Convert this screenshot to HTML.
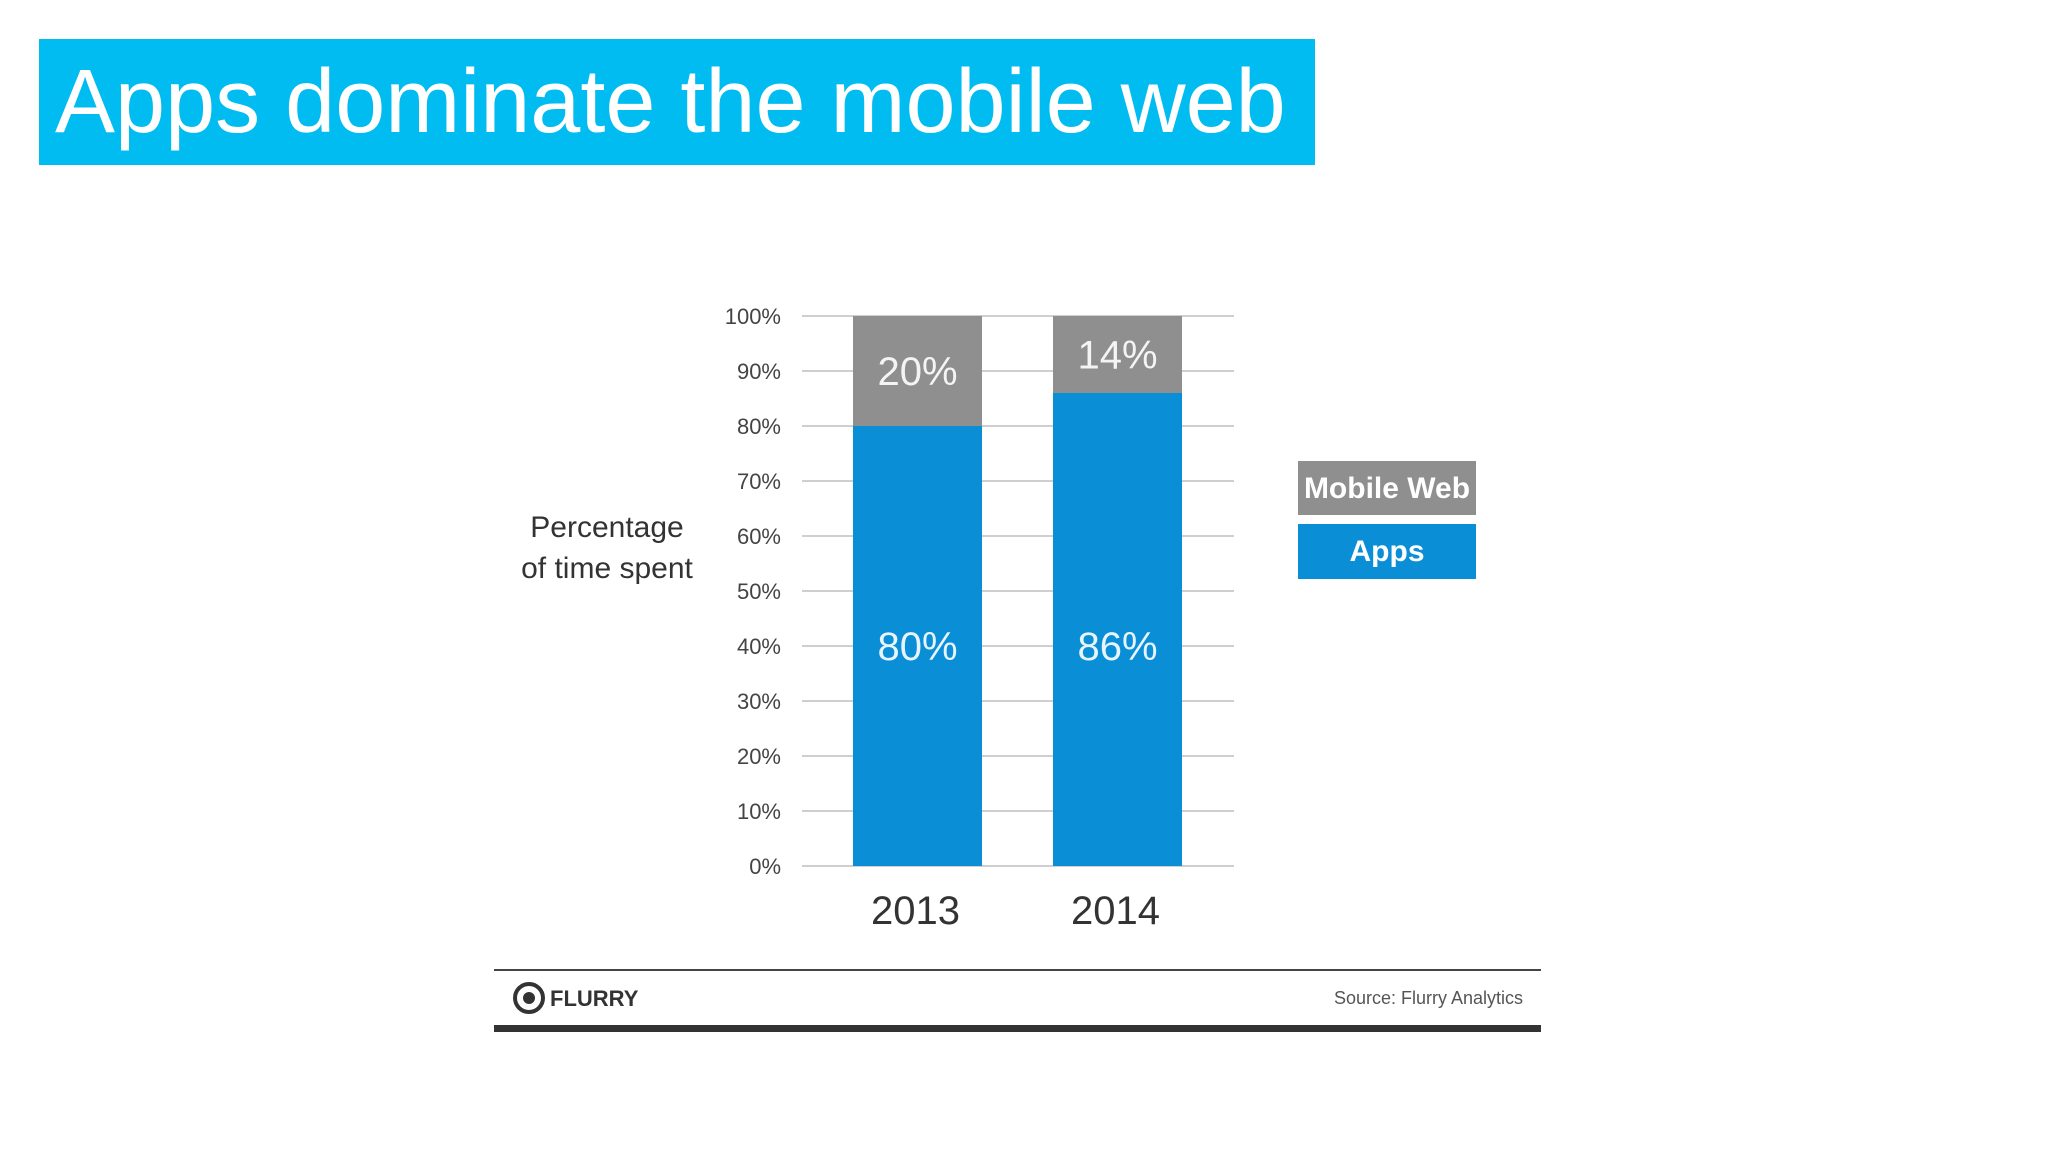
<!DOCTYPE html>
<html><head><meta charset="utf-8"><style>
html,body{margin:0;padding:0;background:#fff;}
body{width:2048px;height:1152px;position:relative;overflow:hidden;font-family:"Liberation Sans",sans-serif;}
#title{position:absolute;left:39px;top:39px;width:1276px;height:126px;background:#00bcf0;color:#fff;font-size:90px;line-height:126px;padding-left:16px;box-sizing:border-box;font-weight:300;letter-spacing:0px;}
svg{position:absolute;left:0;top:0;}
.c{font-family:"Liberation Sans Narrow","Liberation Sans",sans-serif;}
</style></head><body>
<div id="title">Apps dominate the mobile web</div>
<svg id="chart" width="2048" height="1152"></svg>
<script>
const categories=["2013","2014"];
const appsValues=[80,86];
const webValues=[20,14];
const ticks=[0,10,20,30,40,50,60,70,80,90,100];
const NS="http://www.w3.org/2000/svg";
const svg=document.getElementById('chart');
const y0=866,y100=316,xL=802,xR=1234;
const y=v=>y0-(y0-y100)*v/100;
const barX=[853,1053],barW=129;
function mk(t,a,txt){const e=document.createElementNS(NS,t);for(const k in a)e.setAttribute(k,a[k]);if(txt!==undefined)e.textContent=txt;svg.appendChild(e);return e;}
ticks.forEach(t=>{
 const l=mk('line',{x1:xL,x2:xR,y1:y(t),y2:y(t),stroke:'#cfcfcf','stroke-width':2});
 
 
 const tx=mk('text',{x:781,y:y(t)+8,'text-anchor':'end','font-size':22,fill:'#444',class:'c'},t+'%');
 
 
});
categories.forEach((c,i)=>{
 const a=mk('rect',{x:barX[i],y:y(appsValues[i]),width:barW,height:y0-y(appsValues[i]),fill:'#0a8ed6'});
 
 
 const w=mk('rect',{x:barX[i],y:y(appsValues[i]+webValues[i]),width:barW,height:y(appsValues[i])-y(appsValues[i]+webValues[i]),fill:'#8f8f8f'});
 
 
 const cx=barX[i]+barW/2;
 const t1=mk('text',{x:cx,y:y(40)+14,'text-anchor':'middle','font-size':40,fill:'#e8f4ff',class:'c'},appsValues[i]+'%');
 
 
 const t2=mk('text',{x:cx,y:y(appsValues[i]+webValues[i]/2)+14,'text-anchor':'middle','font-size':40,fill:'#f4f4f4',class:'c'},webValues[i]+'%');
 
 
 const yl=mk('text',{x:cx-2,y:924,'text-anchor':'middle','font-size':40,fill:'#333',class:'c'},c);
 
 
});
</script>
<svg width="2048" height="1152">
 <g class="c" font-size="30" fill="#333" text-anchor="middle">
  <text x="607" y="537">Percentage</text><text x="607" y="578">of time spent</text>
 </g>
 <rect x="1298" y="461" width="178" height="54" fill="#8f8f8f"/>
 <text x="1387" y="498" class="c" font-size="30" fill="#fff" text-anchor="middle" font-weight="bold">Mobile Web</text>
 <rect x="1298" y="524" width="178" height="55" fill="#0a8ed6"/>
 <text x="1387" y="561" class="c" font-size="30" fill="#fff" text-anchor="middle" font-weight="bold">Apps</text>
 <line x1="494" x2="1541" y1="970" y2="970" stroke="#444" stroke-width="2"/>
 <rect x="494" y="1025" width="1047" height="7" fill="#333"/>
 <circle cx="529" cy="998" r="14" fill="none" stroke="#333" stroke-width="4"/>
 <circle cx="529" cy="998" r="6" fill="#333"/>
 <text x="550" y="1006" font-size="22" font-weight="bold" fill="#333">FLURRY</text>
 <text x="1523" y="1004" font-size="18" fill="#555" text-anchor="end">Source: Flurry Analytics</text>
</svg>
</body></html>
